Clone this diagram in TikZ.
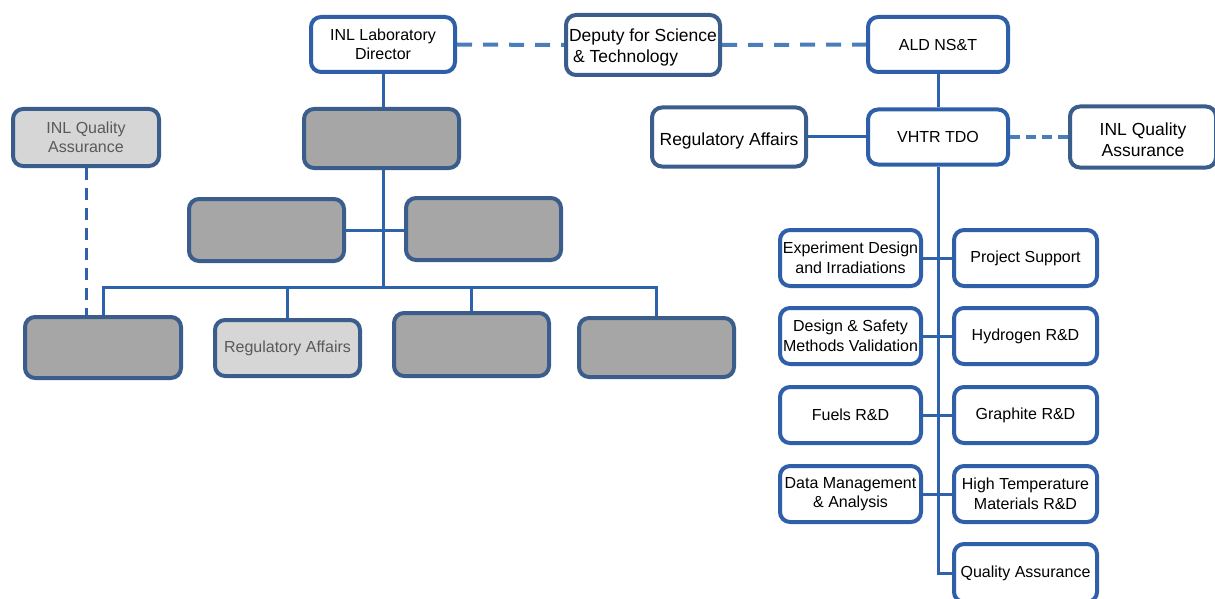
\documentclass[tikz,border=0pt]{standalone}
\usepackage{fontspec}
\setmainfont{Liberation Sans}
\definecolor{vivid}{HTML}{2E5FA8}
\definecolor{steel}{HTML}{3A5D8C}
\definecolor{conn}{HTML}{2E62AD}
\definecolor{dashc}{HTML}{4A7EBB}
\definecolor{grayfill}{HTML}{A6A6A6}
\definecolor{lightfill}{HTML}{D6D6D6}
\definecolor{lighttext}{HTML}{595959}
\begin{document}
\begin{tikzpicture}[x=1pt,y=-1pt,
  box/.style={draw=vivid,line width=4pt,rounded corners=10pt,fill=white,align=center,inner sep=0pt,
    font=\fontsize{16}{19.5}\selectfont},
  sbox/.style={box,draw=steel},
  bigtext/.style={font=\fontsize{17.5}{21}\selectfont},
  graybox/.style={sbox,fill=grayfill},
  lightbox/.style={sbox,fill=lightfill,text=lighttext},
  conline/.style={draw=conn,line width=3pt},
  dashline/.style={draw=dashc,line width=4pt,dash pattern=on 15pt off 11pt},
  dashthin/.style={draw=conn,line width=3pt,dash pattern=on 12pt off 8pt}]
\useasboundingbox (0,0) rectangle (1215,599);
% top row
\node[box,minimum width=144pt,minimum height=55pt] (dir) at (383,44.5) {INL Laboratory\\Director};
\node[sbox,bigtext,align=left,minimum width=154pt,minimum height=60pt] (dep) at (643,45) {\rule{0pt}{18.5pt}Deputy for Science\\\hspace*{4pt}\& Technology};
\node[box,minimum width=140pt,minimum height=55pt] (ald) at (938,44.5) {ALD NS\&T};
% second row right
\node[box,minimum width=140pt,minimum height=55pt] (vhtr) at (938,137) {VHTR TDO};
\node[sbox,bigtext,minimum width=154pt,minimum height=59pt,text height=18pt,text depth=1.5pt] (ra) at (729,137) {Regulatory Affairs};
\node[sbox,bigtext,minimum width=146pt,minimum height=61pt] (qa) at (1143,137) {\rule{0pt}{18pt}INL Quality\\Assurance};
% left grey structure
\node[graybox,minimum width=155pt,minimum height=59pt] (g0) at (381.5,138.5) {};
\node[graybox,minimum width=155pt,minimum height=62pt] (g1) at (266.5,230) {};
\node[graybox,minimum width=155pt,minimum height=62pt] (g2) at (483.5,229) {};
\node[graybox,minimum width=156pt,minimum height=61pt] (b1) at (103,347.5) {};
\node[lightbox,minimum width=145pt,minimum height=56pt] (b2) at (287.5,348) {Regulatory Affairs};
\node[graybox,minimum width=155pt,minimum height=63pt] (b3) at (471.5,344.5) {};
\node[graybox,minimum width=155pt,minimum height=59pt] (b4) at (656.5,347.5) {};
\node[lightbox,minimum width=146pt,minimum height=57pt] (lqa) at (86,137.5) {INL Quality\\Assurance};
\coordinate (bus) at (383,287);
% right column
\node[box,minimum width=141pt,minimum height=56pt] (l1) at (850.5,258) {Experiment Design\\and Irradiations};
\node[box,minimum width=143pt,minimum height=56pt] (r1) at (1025.5,258) {Project Support};
\node[box,minimum width=141pt,minimum height=56pt] (l2) at (850.5,336) {Design \& Safety\\Methods Validation};
\node[box,minimum width=143pt,minimum height=56pt] (r2) at (1025.5,336) {Hydrogen R\&D};
\node[box,minimum width=141pt,minimum height=56pt] (l3) at (850.5,415) {Fuels R\&D};
\node[box,minimum width=143pt,minimum height=56pt] (r3) at (1025.5,415) {Graphite R\&D};
\node[box,minimum width=141pt,minimum height=56pt] (l4) at (850.5,494) {Data Management\\\& Analysis};
\node[box,minimum width=143pt,minimum height=56pt] (r4) at (1025.5,494) {High Temperature\\Materials R\&D};
\node[box,minimum width=143pt,minimum height=58pt] (r5) at (1025.5,573) {Quality Assurance};
% connectors
\draw[dashline] (dir.east) -- (dep.west);
\draw[dashline] (dep.east) -- (ald.west);
\draw[conline] (ald.south) -- (vhtr.north);
\draw[conline] (ra.east) -- (vhtr.west);
\draw[dashline,dash pattern=on 10pt off 6pt] (vhtr.east) -- (qa.west);
\draw[conline] (vhtr.south) -- (vhtr.south |- r5.west) -- (r5.west);
\draw[conline] (l1.east) -- (r1.west);
\draw[conline] (l2.east) -- (r2.west);
\draw[conline] (l3.east) -- (r3.west);
\draw[conline] (l4.east) -- (r4.west);
\draw[conline] (dir.south) -- (dir.south |- g0.north);
\draw[conline] (dir.south |- g0.south) -- (bus);
\draw[conline] (g1.east) -- (g1.east -| g2.west);
\draw[conline] (b1.north) -- (b1.north |- bus) -- (b4.north |- bus) -- (b4.north);
\draw[conline] (b2.north) -- (b2.north |- bus);
\draw[conline] (b3.north) -- (b3.north |- bus);
\draw[dashthin] (lqa.south) -- (lqa.south |- b1.north);
\end{tikzpicture}
\end{document}
